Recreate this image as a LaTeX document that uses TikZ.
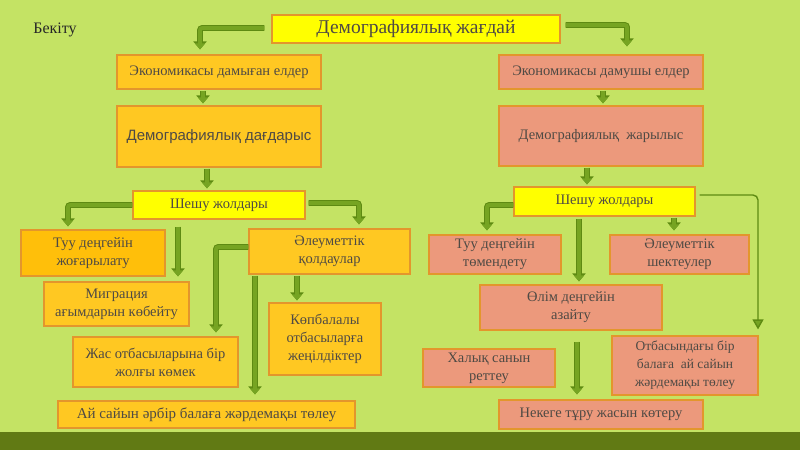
\documentclass[tikz,border=0pt]{standalone}
\usepackage{fontspec}
\setmainfont{Liberation Serif}
\newfontfamily\sansf{Liberation Sans}
\usetikzlibrary{arrows.meta,calc}
\definecolor{bg}{HTML}{C4E364}
\definecolor{band}{HTML}{617A14}
\definecolor{ylw}{HTML}{FFFF00}
\definecolor{org}{HTML}{FFC822}
\definecolor{orgd}{HTML}{FFBF0A}
\definecolor{slm}{HTML}{EC997C}
\definecolor{bord}{HTML}{E3962C}
\definecolor{txt}{HTML}{4F4A44}
\definecolor{arr}{HTML}{76A422}
\definecolor{arrd}{HTML}{5E8A12}
\begin{document}
\begin{tikzpicture}[x=1pt,y=-1pt,
  box/.style={draw=bord, line width=1.2pt, text=txt, align=center, inner sep=0pt,
    font=\fontsize{14.5}{18}\selectfont},
  obox/.style={box, fill=org},
  sbox/.style={box, fill=slm},
  ybox/.style={box, fill=ylw},
  fat/.style={draw=arr, line width=3.6pt, rounded corners=2pt, shorten >=1pt,
    -{Triangle[width=10pt,length=6pt]},
    preaction={draw=arrd, line width=5.6pt, rounded corners=2pt,
      -{Triangle[width=13pt,length=8pt]}}},
  thin/.style={draw=arrd, line width=1.4pt, rounded corners=5pt,
    -{Triangle[width=11pt,length=10pt,fill=arr]}}
]
\fill[bg] (0,0) rectangle (800,450);
\fill[band] (0,432) rectangle (800,450);

\node[font=\fontsize{16}{18}\selectfont, text=black!85] (bekitu) at (55,30) {Бекіту};

\node[ybox, minimum width=288pt, minimum height=28pt, font=\fontsize{19.5}{22}\selectfont] (title) at (416,29) {Демографиялық жағдай};

\node[obox, minimum width=204pt, minimum height=34pt] (eco1) at (219,72) {Экономикасы дамыған елдер};
\node[obox, minimum width=204pt, minimum height=61pt, font=\sansf\fontsize{15}{18}\selectfont] (crisis) at (219,136.5) {Демографиялық дағдарыс};
\node[sbox, minimum width=204pt, minimum height=34pt] (eco2) at (601,72) {Экономикасы дамушы елдер};
\node[sbox, minimum width=204pt, minimum height=60pt] (boom) at (601,136) {Демографиялық\ \ жарылыс};

\node[ybox, minimum width=172pt, minimum height=28pt] (sol1) at (219,205) {Шешу жолдары};
\node[box, fill=orgd, minimum width=144pt, minimum height=46pt] (birth1) at (93,253) {Туу деңгейін\\жоғарылату};
\node[obox, minimum width=161pt, minimum height=45pt] (social1) at (329.5,251.5) {Әлеуметтік\\қолдаулар};
\node[obox, minimum width=145pt, minimum height=44pt] (migr) at (116.5,304) {Миграция\\ағымдарын көбейту};
\node[obox, minimum width=165pt, minimum height=50pt] (young) at (155.5,362) {Жас отбасыларына бір\\жолғы көмек};
\node[obox, minimum width=112pt, minimum height=72pt] (large) at (325,339) {Көпбалалы\\отбасыларға\\жеңілдіктер};
\node[obox, minimum width=297pt, minimum height=27pt, font=\fontsize{15}{18}\selectfont] (monthly1) at (206.5,414.5) {Ай сайын әрбір балаға жәрдемақы төлеу};

\node[ybox, minimum width=181pt, minimum height=29pt] (sol2) at (604.5,201.5) {Шешу жолдары};
\node[sbox, minimum width=132pt, minimum height=39pt] (birth2) at (495,254.5) {Туу деңгейін\\төмендету};
\node[sbox, minimum width=139pt, minimum height=39pt] (restrict) at (679.5,254.5) {Әлеуметтік\\шектеулер};
\node[sbox, minimum width=182pt, minimum height=45pt] (death) at (571,307.5) {Өлім деңгейін\\азайту};
\node[sbox, minimum width=132pt, minimum height=38pt] (regul) at (489,368) {Халық санын\\реттеу};
\node[sbox, minimum width=146pt, minimum height=59pt, font=\fontsize{13.5}{18}\selectfont] (family) at (685,365.5) {Отбасындағы бір\\балаға\ \ ай сайын\\жәрдемақы төлеу};
\node[sbox, minimum width=204pt, minimum height=29pt] (marriage) at (601,414.5) {Некеге тұру жасын көтеру};

% connectors
\draw[fat] ([xshift=-7pt,yshift=1pt]title.west) -| ([xshift=-19pt,yshift=4pt]eco1.north);
\draw[fat] ([xshift=5pt,yshift=4pt]title.east) -| ([xshift=26pt,yshift=7pt]eco2.north);
\draw[fat] ([xshift=-16pt,yshift=-1pt]eco1.south) -- ([xshift=-16pt,yshift=1pt]crisis.north);
\draw[fat] ([xshift=2pt,yshift=-1pt]eco2.south) -- ([xshift=2pt,yshift=1pt]boom.north);
\draw[fat] ([xshift=-12pt,yshift=-1pt]crisis.south) -- ([xshift=-12pt,yshift=1pt]sol1.north);
\draw[fat] (sol1.west) -| ([xshift=-25pt,yshift=2pt]birth1.north);
\draw[fat] ([xshift=3pt,yshift=2pt]sol1.east) -| ([xshift=29.5pt,yshift=3pt]social1.north);
\draw[fat] ([xshift=-41pt,yshift=-7pt]sol1.south) -- ([xshift=61.5pt,yshift=4pt]migr.north);
\draw[fat] ([yshift=4.5pt]social1.west) -| ([xshift=60.5pt,yshift=3pt]young.north);
\draw[fat] ([xshift=-74.5pt,yshift=-1pt]social1.south) -- ([xshift=48.5pt,yshift=5pt]monthly1.north);
\draw[fat] ([xshift=-32.5pt,yshift=-1pt]social1.south) -- ([xshift=-28pt,yshift=1pt]large.north);

\draw[fat] ([xshift=-14pt,yshift=-1pt]boom.south) -- ([xshift=-17.5pt,yshift=1pt]sol2.north);
\draw[fat] ([yshift=-3.5pt]sol2.west) -| ([xshift=-8pt,yshift=3pt]birth2.north);
\draw[fat] ([xshift=69.5pt,yshift=-1pt]sol2.south) -- ([xshift=-5.5pt,yshift=3pt]restrict.north);
\draw[fat] ([xshift=-25.5pt,yshift=-2pt]sol2.south) -- ([xshift=8pt,yshift=2pt]death.north);
\draw[thin] ([xshift=4pt,yshift=6.5pt]sol2.east) -| ([xshift=73pt,yshift=6pt]family.north);
\draw[fat] ([xshift=6pt,yshift=-11pt]death.south) -- ([xshift=-24pt,yshift=4pt]marriage.north);
\end{tikzpicture}
\end{document}
